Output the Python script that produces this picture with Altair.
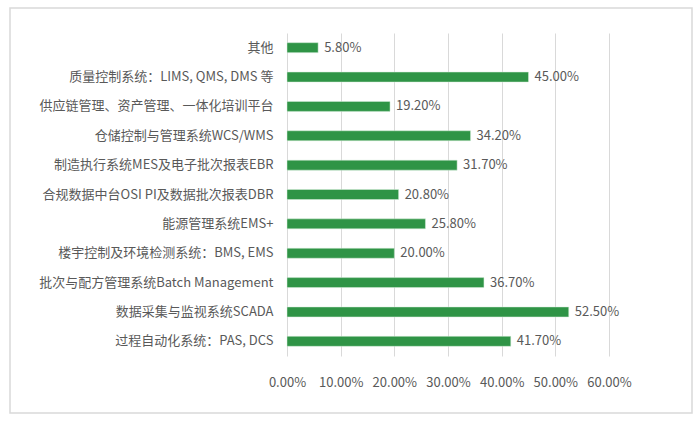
import altair as alt
import pandas as pd

categories = [
    "其他",
    "质量控制系统：LIMS, QMS, DMS 等",
    "供应链管理、资产管理、一体化培训平台",
    "仓储控制与管理系统WCS/WMS",
    "制造执行系统MES及电子批次报表EBR",
    "合规数据中台OSI PI及数据批次报表DBR",
    "能源管理系统EMS+",
    "楼宇控制及环境检测系统：BMS, EMS",
    "批次与配方管理系统Batch Management",
    "数据采集与监视系统SCADA",
    "过程自动化系统：PAS, DCS",
]
values = [5.8, 45.0, 19.2, 34.2, 31.7, 20.8, 25.8, 20.0, 36.7, 52.5, 41.7]
x_ticks = [0, 10, 20, 30, 40, 50, 60]

df = pd.DataFrame({"cat": categories, "val": values})
df["label"] = [f"{v:.2f}%" for v in values]

FONT = "Noto Sans CJK SC"
GREY = "#595959"
GREEN = "#2f9446"

y_enc = alt.Y(
    "cat:N",
    sort=None,
    title=None,
    scale=alt.Scale(paddingInner=0.66, paddingOuter=0.33),
    axis=alt.Axis(
        domain=False,
        ticks=False,
        labelPadding=14,
        labelFont=FONT,
        labelFontSize=13,
        labelColor=GREY,
        labelLimit=400,
        labelOverlap=False,
    ),
)
x_enc = alt.X(
    "val:Q",
    title=None,
    scale=alt.Scale(domain=[0, 60], nice=False),
    axis=alt.Axis(
        values=x_ticks,
        domain=False,
        ticks=False,
        grid=True,
        gridColor="#d9d9d9",
        gridWidth=1,
        labelPadding=20,
        labelFont=FONT,
        labelFontSize=13,
        labelColor=GREY,
        labelOverlap=False,
        labelFlush=False,
        labelExpr="format(datum.value, '.2f') + '%'",
    ),
)

base = alt.Chart(df)

bars = base.mark_bar(color=GREEN, stroke="#d8eedc", strokeWidth=0.5).encode(y=y_enc, x=x_enc)

text = base.mark_text(
    align="left", baseline="middle", dx=6, font=FONT, fontSize=13, color=GREY
).encode(y=alt.Y("cat:N", sort=None), x="val:Q", text="label:N")

border = alt.Chart(pd.DataFrame({"a": [0]})).mark_rect(
    fill=None, stroke="#d9d9d9", strokeWidth=1.5, clip=False
).encode(
    x=alt.value(-277), x2=alt.value(405), y=alt.value(-25), y2=alt.value(380)
)

chart = (
    alt.layer(bars, text, border)
    .properties(
        width=322,
        height=323,
        autosize=alt.AutoSizeParams(type="none"),
        padding={"left": 287, "top": 33, "right": 91, "bottom": 66},
        background="white",
    )
    .configure_view(stroke=None)
)

chart.save("out.html", embed_options={"renderer": "svg", "actions": False})
